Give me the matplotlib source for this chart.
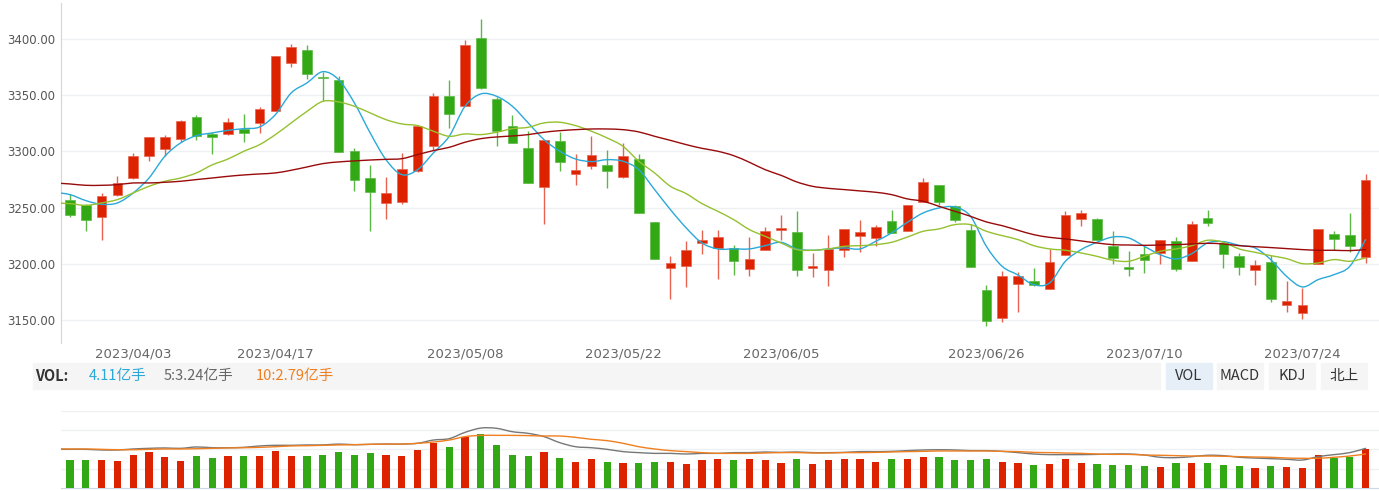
import numpy as np
import matplotlib.pyplot as plt
from matplotlib.patches import Rectangle, PathPatch
from matplotlib.path import Path

W, H = 1379, 491

dates = ['2023/03/28', '2023/03/29', '2023/03/30', '2023/03/31', '2023/04/03', '2023/04/04',
         '2023/04/06', '2023/04/07', '2023/04/10', '2023/04/11', '2023/04/12', '2023/04/13',
         '2023/04/14', '2023/04/17', '2023/04/18', '2023/04/19', '2023/04/20', '2023/04/21',
         '2023/04/24', '2023/04/25', '2023/04/26', '2023/04/27', '2023/04/28', '2023/05/04',
         '2023/05/05', '2023/05/08', '2023/05/09', '2023/05/10', '2023/05/11', '2023/05/12',
         '2023/05/15', '2023/05/16', '2023/05/17', '2023/05/18', '2023/05/19', '2023/05/22',
         '2023/05/23', '2023/05/24', '2023/05/25', '2023/05/26', '2023/05/29', '2023/05/30',
         '2023/05/31', '2023/06/01', '2023/06/02', '2023/06/05', '2023/06/06', '2023/06/07',
         '2023/06/08', '2023/06/09', '2023/06/12', '2023/06/13', '2023/06/14', '2023/06/15',
         '2023/06/16', '2023/06/19', '2023/06/20', '2023/06/21', '2023/06/26', '2023/06/27',
         '2023/06/28', '2023/06/29', '2023/06/30', '2023/07/03', '2023/07/04', '2023/07/05',
         '2023/07/06', '2023/07/07', '2023/07/10', '2023/07/11', '2023/07/12', '2023/07/13',
         '2023/07/14', '2023/07/17', '2023/07/18', '2023/07/19', '2023/07/20', '2023/07/21',
         '2023/07/24', '2023/07/25', '2023/07/26', '2023/07/27', '2023/07/28']
shown_dates = ['2023/04/03', '2023/04/17', '2023/05/08', '2023/05/22',
               '2023/06/05', '2023/06/26', '2023/07/10', '2023/07/24']

opens = [3256.5, 3252.3, 3241.9, 3261.5, 3276.3, 3296.2, 3301.8, 3310.7, 3330.9, 3315.8,
         3315.2, 3319.9, 3325.3, 3336.2, 3378.4, 3390.5, 3366.2, 3363.5, 3300.7, 3276.0,
         3253.8, 3254.7, 3282.3, 3304.5, 3349.3, 3340.1, 3401.2, 3346.6, 3322.9, 3303.3,
         3268.3, 3309.3, 3280.2, 3287.3, 3287.9, 3277.2, 3293.5, 3236.9, 3196.3, 3198.3,
         3218.5, 3213.8, 3214.4, 3195.1, 3212.0, 3230.4, 3228.0, 3196.0, 3194.2, 3212.0,
         3224.4, 3222.7, 3238.4, 3229.5, 3255.0, 3270.4, 3251.7, 3230.4, 3177.0, 3151.8,
         3182.3, 3184.4, 3177.6, 3207.8, 3240.2, 3239.9, 3215.5, 3196.9, 3208.7, 3209.6,
         3220.3, 3202.2, 3240.8, 3218.5, 3206.6, 3194.2, 3201.6, 3163.0, 3155.9, 3200.1,
         3226.8, 3225.3, 3206.0]
highs = [3262.1, 3253.5, 3263.0, 3278.4, 3298.6, 3312.5, 3314.3, 3327.9, 3332.1, 3317.6,
         3329.7, 3333.6, 3339.5, 3385.2, 3395.8, 3394.7, 3370.9, 3367.1, 3302.7, 3287.9,
         3277.2, 3298.6, 3323.8, 3352.0, 3363.5, 3399.4, 3418.1, 3348.4, 3332.7, 3317.9,
         3310.4, 3317.3, 3297.7, 3313.4, 3301.5, 3307.5, 3298.0, 3237.5, 3206.6, 3220.6,
         3230.4, 3230.4, 3216.4, 3224.1, 3232.7, 3243.7, 3247.0, 3209.6, 3225.6, 3230.9,
         3239.0, 3234.8, 3248.2, 3252.6, 3276.3, 3270.4, 3252.6, 3235.4, 3181.1, 3193.9,
         3192.4, 3196.0, 3213.2, 3247.3, 3247.6, 3240.8, 3229.5, 3211.7, 3215.5, 3221.5,
         3223.8, 3238.1, 3247.9, 3219.1, 3209.6, 3203.7, 3208.1, 3185.0, 3178.2, 3230.9,
         3229.5, 3244.9, 3280.2]
lows = [3241.3, 3229.2, 3220.9, 3260.0, 3275.7, 3291.2, 3296.2, 3308.1, 3309.8, 3298.0,
        3314.6, 3308.7, 3316.4, 3335.6, 3374.8, 3364.1, 3344.5, 3299.8, 3264.5, 3229.2,
        3239.9, 3252.9, 3281.7, 3301.5, 3320.5, 3340.1, 3355.5, 3304.5, 3307.8, 3271.6,
        3235.1, 3282.3, 3269.8, 3284.3, 3267.4, 3276.3, 3245.2, 3204.3, 3168.7, 3179.4,
        3208.7, 3186.5, 3190.0, 3189.1, 3212.0, 3221.5, 3189.4, 3187.9, 3180.5, 3206.0,
        3210.5, 3215.5, 3227.1, 3229.5, 3255.0, 3252.0, 3236.9, 3197.2, 3144.4, 3147.9,
        3156.8, 3180.0, 3177.6, 3207.8, 3233.3, 3221.5, 3200.1, 3189.1, 3192.1, 3199.8,
        3193.3, 3202.2, 3233.3, 3196.3, 3190.0, 3180.8, 3165.7, 3156.8, 3150.9, 3200.1,
        3212.6, 3210.2, 3200.7]
closes = [3243.7, 3239.0, 3260.3, 3271.9, 3295.9, 3312.5, 3312.5, 3327.0, 3313.4, 3312.8,
          3325.9, 3316.4, 3337.7, 3384.6, 3392.6, 3368.6, 3365.3, 3299.8, 3274.6, 3263.6,
          3263.3, 3284.6, 3322.3, 3349.3, 3333.3, 3394.4, 3356.7, 3317.9, 3307.8, 3271.6,
          3310.4, 3290.3, 3283.7, 3296.8, 3282.3, 3295.6, 3245.2, 3204.3, 3200.7, 3212.3,
          3221.5, 3224.1, 3202.8, 3204.6, 3229.2, 3231.8, 3194.2, 3197.7, 3213.2, 3230.9,
          3228.0, 3233.0, 3227.1, 3252.6, 3273.1, 3255.0, 3239.3, 3197.2, 3148.8, 3188.8,
          3188.8, 3181.4, 3201.6, 3243.7, 3244.9, 3221.5, 3204.9, 3195.7, 3203.1, 3221.5,
          3195.4, 3235.7, 3236.3, 3209.0, 3197.2, 3198.6, 3168.7, 3167.2, 3163.6, 3230.9,
          3222.1, 3215.5, 3274.9]

# moving averages, first value belongs to the session before the visible window
ma5 = [3263.6, 3261.5, 3256.2, 3252.9, 3254.1, 3263.0, 3276.3, 3295.6, 3307.5, 3314.0, 3316.4,
       3318.7, 3320.2, 3321.7, 3332.7, 3352.0, 3360.9, 3370.9, 3363.8, 3343.1, 3316.4,
       3292.6, 3279.3, 3283.7, 3298.6, 3313.4, 3340.1, 3351.1, 3349.0, 3340.1, 3325.3,
       3310.4, 3300.1, 3293.2, 3290.9, 3292.6, 3291.2, 3283.7, 3266.0, 3248.2, 3231.9,
       3218.5, 3213.2, 3213.2, 3213.2, 3216.1, 3219.1, 3213.2, 3212.0, 3213.2, 3214.1,
       3213.2, 3220.0, 3227.4, 3236.9, 3245.2, 3249.6, 3250.5, 3242.2, 3215.5, 3197.7,
       3190.0, 3181.4, 3182.9, 3202.2, 3212.6, 3219.1, 3223.8, 3223.0, 3215.5, 3208.1,
       3204.3, 3209.0, 3218.5, 3219.7, 3216.4, 3214.1, 3203.7, 3188.8, 3179.4, 3185.9,
       3190.3, 3197.7, 3221.5]
ma10 = [3254.1, 3253.5, 3252.0, 3254.1, 3257.1, 3263.0, 3268.9, 3273.4, 3276.3, 3280.8, 3288.0,
        3293.2, 3300.1, 3306.0, 3314.9, 3325.3, 3335.6, 3344.5, 3344.0, 3340.1, 3334.2,
        3328.2, 3324.4, 3322.9, 3317.9, 3313.4, 3315.5, 3314.9, 3317.0, 3320.2, 3321.4,
        3325.3, 3325.9, 3322.9, 3317.9, 3311.9, 3304.5, 3291.2, 3280.8, 3268.9, 3262.4,
        3253.5, 3246.7, 3239.3, 3230.4, 3224.4, 3218.5, 3212.6, 3212.0, 3213.2, 3215.5,
        3216.1, 3217.0, 3219.1, 3223.8, 3228.9, 3231.0, 3234.8, 3234.8, 3228.9, 3225.0,
        3221.5, 3216.1, 3213.2, 3212.0, 3209.6, 3206.6, 3203.1, 3202.2, 3206.6, 3211.1,
        3213.2, 3216.1, 3220.9, 3219.1, 3213.2, 3210.2, 3207.2, 3204.6, 3200.1, 3200.7,
        3203.7, 3202.2, 3205.2]
ma20 = [3271.9, 3271.0, 3269.8, 3269.8, 3270.4, 3271.9, 3271.9, 3272.5, 3273.4, 3274.9, 3276.3,
        3277.8, 3279.0, 3279.9, 3280.8, 3283.2, 3286.1, 3289.1, 3290.6, 3291.5, 3292.3,
        3292.9, 3293.5, 3297.1, 3300.7, 3303.6, 3308.1, 3311.3, 3312.8, 3313.7, 3314.9,
        3317.0, 3318.4, 3319.3, 3319.9, 3319.9, 3319.3, 3317.3, 3313.4, 3309.8, 3306.0,
        3302.7, 3300.1, 3296.2, 3290.3, 3283.7, 3278.7, 3272.8, 3268.9, 3267.1, 3266.0,
        3264.8, 3263.6, 3261.5, 3257.7, 3255.6, 3251.1, 3246.7, 3242.2, 3237.2, 3233.9,
        3229.8, 3225.9, 3223.5, 3222.1, 3220.3, 3218.5, 3217.0, 3216.7, 3216.4, 3216.7,
        3217.0, 3217.6, 3218.2, 3217.6, 3216.1, 3215.2, 3214.4, 3213.5, 3212.6, 3212.0,
        3212.0, 3211.7, 3212.6]

# volume in 亿手
volumes = [2.95, 2.95, 2.95, 2.84, 3.51, 3.86, 3.30, 2.84, 3.40, 3.16,
           3.40, 3.40, 3.40, 3.96, 3.40, 3.40, 3.51, 3.86, 3.51, 3.75,
           3.51, 3.40, 4.00, 4.81, 4.35, 5.37, 5.72, 4.56, 3.51, 3.40,
           3.86, 3.16, 2.81, 3.05, 2.81, 2.70, 2.70, 2.81, 2.81, 2.60,
           2.95, 3.05, 2.95, 3.05, 2.95, 2.70, 3.05, 2.60, 2.95, 3.05,
           3.05, 2.81, 3.05, 3.05, 3.30, 3.30, 2.95, 2.95, 3.05, 2.81,
           2.70, 2.46, 2.60, 3.05, 2.70, 2.60, 2.46, 2.46, 2.35, 2.25,
           2.70, 2.70, 2.70, 2.46, 2.35, 2.14, 2.35, 2.25, 2.14, 3.51,
           3.16, 3.30, 4.11]
vol_ma5 = [3.16, 3.16, 3.16, 3.11, 3.11, 3.19, 3.24, 3.27, 3.24, 3.35, 3.29,
           3.29, 3.32, 3.43, 3.48, 3.48, 3.51, 3.51, 3.58, 3.53, 3.56,
           3.58, 3.58, 3.64, 3.90, 4.01, 4.51, 4.85, 4.83, 4.56, 4.43,
           4.17, 3.69, 3.37, 3.29, 3.16, 2.98, 2.90, 2.84, 2.84, 2.79,
           2.84, 2.84, 2.90, 2.90, 2.95, 2.92, 2.95, 2.90, 2.90, 2.92,
           2.98, 2.98, 3.00, 3.06, 3.11, 3.13, 3.11, 3.06, 3.06, 3.00,
           2.90, 2.79, 2.74, 2.74, 2.74, 2.76, 2.79, 2.79, 2.71, 2.53,
           2.50, 2.58, 2.69, 2.66, 2.53, 2.47, 2.42, 2.37, 2.31, 2.58,
           2.74, 2.90, 3.24]
vol_ma10 = [3.21, 3.19, 3.19, 3.16, 3.13, 3.13, 3.16, 3.19, 3.19, 3.21, 3.24,
            3.27, 3.29, 3.32, 3.37, 3.43, 3.45, 3.48, 3.51, 3.53, 3.56,
            3.58, 3.58, 3.64, 3.74, 3.90, 4.17, 4.27, 4.27, 4.27, 4.25,
            4.22, 4.22, 4.11, 3.96, 3.85, 3.64, 3.37, 3.19, 3.06, 2.98,
            2.90, 2.84, 2.84, 2.84, 2.87, 2.90, 2.90, 2.87, 2.87, 2.90,
            2.90, 2.92, 2.95, 2.98, 3.00, 3.03, 3.03, 3.03, 3.03, 3.00,
            2.98, 2.92, 2.90, 2.87, 2.84, 2.79, 2.76, 2.76, 2.71, 2.69,
            2.66, 2.63, 2.63, 2.61, 2.58, 2.55, 2.53, 2.47, 2.45, 2.45,
            2.53, 2.63, 2.79]

RED, GREEN = '#dd2200', '#33a815'
RED_W, GREEN_W = '#e8634f', '#5cb845'
GRID = '#eef0f4'
AXIS = '#ccd6e6'


def px(x, y, w, h):
    # pixel box (top-left origin) -> figure fraction rect
    return [x / W, 1 - (y + h) / H, w / W, h / H]


def smooth_line(axis, xs, ys, color, lw=1.0):
    # curved line through the points (cubic bezier, catmull-rom style handles)
    pts = np.column_stack([xs, ys]).astype(float)
    m = len(pts)
    verts = [pts[0]]
    codes = [Path.MOVETO]
    for i in range(m - 1):
        p0 = pts[max(i - 1, 0)]
        p1 = pts[i]
        p2 = pts[i + 1]
        p3 = pts[min(i + 2, m - 1)]
        verts += [p1 + (p2 - p0) / 6.0, p2 - (p3 - p1) / 6.0, p2]
        codes += [Path.CURVE4] * 3
    axis.add_patch(PathPatch(Path(verts, codes), fill=False, edgecolor=color,
                             lw=lw, zorder=5, capstyle='round', joinstyle='round'))


fig = plt.figure(figsize=(W / 100, H / 100), dpi=100)

# ---- candlestick panel
ax = fig.add_axes(px(61, 3, 1318, 340))
n = len(closes)
x = np.arange(n)
o = np.array(opens)
c = np.array(closes)
up = c >= o
body_col = np.where(up, RED, GREEN)
wick_col = np.where(up, RED_W, GREEN_W)

ax.vlines(x, lows, highs, colors=wick_col, lw=1.0, zorder=3)
body_h = np.maximum(np.abs(c - o), 0.8)
ax.bar(x, body_h, bottom=np.minimum(o, c), width=0.6, color=body_col,
       edgecolor=wick_col, linewidth=0.5, zorder=4)

xm = np.arange(-1, n)
smooth_line(ax, xm, ma5, '#2aa9d9')
smooth_line(ax, xm, ma10, '#95c130')
smooth_line(ax, xm, ma20, '#990a0a')

ax.set_xlim(-0.57, 82.85)
ax.set_ylim(3129.5, 3432.0)
ax.set_yticks([3150, 3200, 3250, 3300, 3350, 3400])
ax.set_yticklabels(['%.2f' % v for v in [3150, 3200, 3250, 3300, 3350, 3400]])
ax.grid(axis='y', color=GRID, lw=1.0)
ax.set_axisbelow(True)
tick_idx = [dates.index(d) for d in shown_dates]
ax.set_xticks(tick_idx)
ax.set_xticklabels(shown_dates)
ax.tick_params(axis='y', length=0, pad=4, labelsize=8.5, labelcolor='#555555')
ax.tick_params(axis='x', length=0, pad=3, labelsize=9.5, labelcolor='#666666')
for s in ['top', 'right', 'bottom']:
    ax.spines[s].set_visible(False)
ax.spines['left'].set_color(AXIS)

# ---- header band
cjk = ['Noto Sans CJK SC', 'DejaVu Sans']
fig.patches.append(Rectangle((33 / W, 1 - 389 / H), (1160 - 33) / W, 26 / H,
                             transform=fig.transFigure, color='#f5f5f5', zorder=0))
ty = 1 - 376 / H
fig.text(35 / W, ty, 'VOL:', fontsize=10.5, fontweight='bold', color='#333333',
         va='center', family=cjk)
fig.text(89 / W, ty, '%.2f亿手' % volumes[-1], fontsize=10.5, color='#2aa9d9', va='center', family=cjk)
fig.text(164 / W, ty, '5:%.2f亿手' % vol_ma5[-1], fontsize=10.5, color='#666666', va='center', family=cjk)
fig.text(256 / W, ty, '10:%.2f亿手' % vol_ma10[-1], fontsize=10.5, color='#f07f1f', va='center', family=cjk)

buttons = ['VOL', 'MACD', 'KDJ', '北上']
btn_left = [1166, 1217, 1269, 1321]
for name, bx in zip(buttons, btn_left):
    fc = '#e6eef8' if name == 'VOL' else '#f5f5f5'
    fig.patches.append(Rectangle((bx / W, 1 - 389 / H), 46 / W, 26 / H,
                                 transform=fig.transFigure, color=fc, zorder=0))
    fig.text((bx + 23) / W, ty, name, fontsize=10.5, color='#333333',
             ha='center', va='center', family=cjk)

# ---- volume panel
axv = fig.add_axes(px(61, 410.7, 1318, 77.6))
vcol = np.where(up, RED, GREEN)
axv.bar(x, volumes, width=0.46, color=vcol, zorder=3)
axv.set_xlim(-0.57, 82.85)
axv.set_ylim(0, 8.18)
axv.set_yticks(np.linspace(0, 8.18, 5)[1:])
axv.grid(axis='y', color=GRID, lw=1.0)
axv.set_axisbelow(True)
axv.set_xticks([])
axv.tick_params(axis='y', length=0, labelleft=False)
for s in ['top', 'right', 'left']:
    axv.spines[s].set_visible(False)
axv.spines['bottom'].set_color(AXIS)

axl = axv.twinx()
smooth_line(axl, xm, vol_ma5, '#777777')
smooth_line(axl, xm, vol_ma10, '#f07f1f')
axl.set_xlim(-0.57, 82.85)
axl.set_ylim(0.066, 6.23)
axl.set_yticks([])
for s in axl.spines.values():
    s.set_visible(False)

fig.savefig('out.png', dpi=100)
